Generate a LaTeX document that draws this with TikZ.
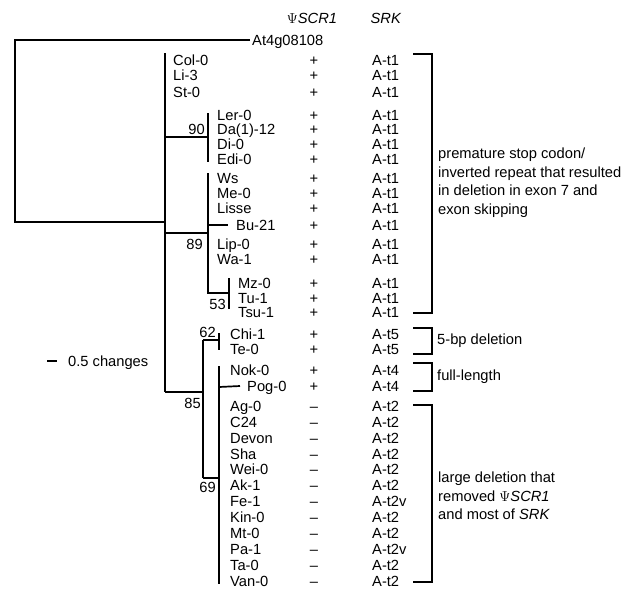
\documentclass[tikz,border=0pt]{standalone}
\usepackage{fontspec}
\setmainfont{Liberation Sans}
\usetikzlibrary{positioning}

\tikzset{
  taxon/.style={anchor=west, inner sep=0pt, text height=10.5pt, text depth=0pt},
  sign/.style={inner sep=0pt, text height=10.5pt, text depth=0pt},
  boot/.style={anchor=east, inner sep=0pt, text height=10.5pt, text depth=0pt},
  note/.style={anchor=west, inner sep=0pt, align=left, font=\fontsize{14.7}{18.5}\selectfont},
  branch/.style={line width=1.7pt},
  bracket/.style={line width=1.3pt}
}

\begin{document}
\begin{tikzpicture}[x=1pt, y=-1pt, font=\fontsize{14.7}{17}\selectfont]
\useasboundingbox (0,0) rectangle (631,589);

% column heads
\node (hpsi) at (312,18) {$\Psi$\textit{SCR1}};
\node (hsrk) at (386,18) {\textit{SRK}};

% taxa with the two markers
\node[taxon, inner xsep=2pt] (at4) at (250,40) {At4g08108};
\foreach \name/\y/\x/\sg/\al [count=\i] in {
  Col-0/60/173/+/A-t1, Li-3/75/173/+/A-t1, St-0/92/173/+/A-t1,
  Ler-0/115/217/+/A-t1, Da(1)-12/129/217/+/A-t1, Di-0/144/217/+/A-t1, Edi-0/159/217/+/A-t1,
  Ws/178/217/+/A-t1, Me-0/193/217/+/A-t1, Lisse/208/217/+/A-t1, Bu-21/225/236/+/A-t1,
  Lip-0/244/217/+/A-t1, Wa-1/259/217/+/A-t1,
  Mz-0/283/238/+/A-t1, Tu-1/298/238/+/A-t1, Tsu-1/312/238/+/A-t1,
  Chi-1/334/230/+/A-t5, Te-0/349/230/+/A-t5,
  Nok-0/370/230/+/A-t4, Pog-0/386/247/+/A-t4,
  Ag-0/406/230/--/A-t2, C24/422/230/--/A-t2, Devon/438/230/--/A-t2,
  Sha/454/230/--/A-t2, Wei-0/469/230/--/A-t2, Ak-1/485/230/--/A-t2,
  Fe-1/501/230/--/A-t2v, Kin-0/517/230/--/A-t2, Mt-0/533/230/--/A-t2,
  Pa-1/549/230/--/A-t2v, Ta-0/565/230/--/A-t2, Van-0/581/230/--/A-t2}
{
  \node[taxon] (t\i) at (\x,\y) {\name};
  \node[sign] (s\i) at (314,\y) {\sg};
  \node[taxon] (a\i) at (372,\y) {\al};
}

% tree
\coordinate (root) at (15,222);
\coordinate (nA) at (165,222);
\coordinate (n90) at (208,137);
\coordinate (n89) at (208,233);
\coordinate (n53) at (229,293);
\coordinate (n85) at (203,392);
\coordinate (n62) at (219,340);
\coordinate (n69) at (219,478);

\draw[branch] (at4.west) -| (root) -- (nA);
\draw[branch] (165,53) -- (165,392);
\draw[branch] (165,137) -- (n90);
\draw[branch] (208,113) -- (208,162);
\draw[branch] (165,233) -- (n89);
\draw[branch] (208,173) -- (208,293) -- (n53);
\draw[branch] (208,225) -- ([xshift=-8pt]t11.west);
\draw[branch] (229,278) -- (229,309);
\draw[branch] (165,392) -- (n85);
\draw[branch] (203,340) -- (203,478);
\draw[branch] (203,340) -- (n62);
\draw[branch] (219,333) -- (219,350);
\draw[branch] (203,478) -- (n69);
\draw[branch] (219,366) -- (219,584);
\draw[branch] (219,387) -- ([xshift=-7pt]t20.west);

% bootstrap values
\node[boot] (b90) at (205,129) {90};
\node[boot] (b89) at (203,244) {89};
\node[boot] (b53) at (226,304) {53};
\node[boot] (b62) at (216,332) {62};
\node[boot] (b85) at (201,403) {85};
\node[boot] (b69) at (216,487) {69};

% scale
\node[taxon] (scale) at (68,361) {0.5 changes};
\draw[line width=2.5pt] (scale.west) ++(-21,0) -- ++(10,0);

% groups
\foreach \top/\bot in {54/313, 328/354, 363/391, 405/582}
  \draw[bracket] (413,\top) -| (432,\bot) -- (413,\bot);

\node[note] (g1) at (438,182.5) {premature stop codon/\\inverted repeat that resulted\\in deletion in exon 7 and\\exon skipping};
\node[note] (g2) at (437,341) {5-bp deletion};
\node[note] (g3) at (437,377) {full-length};
\node[note] (g4) at (438,496) {large deletion that\\removed $\Psi$\textit{SCR1}\\and most of \textit{SRK}};
\end{tikzpicture}
\end{document}
